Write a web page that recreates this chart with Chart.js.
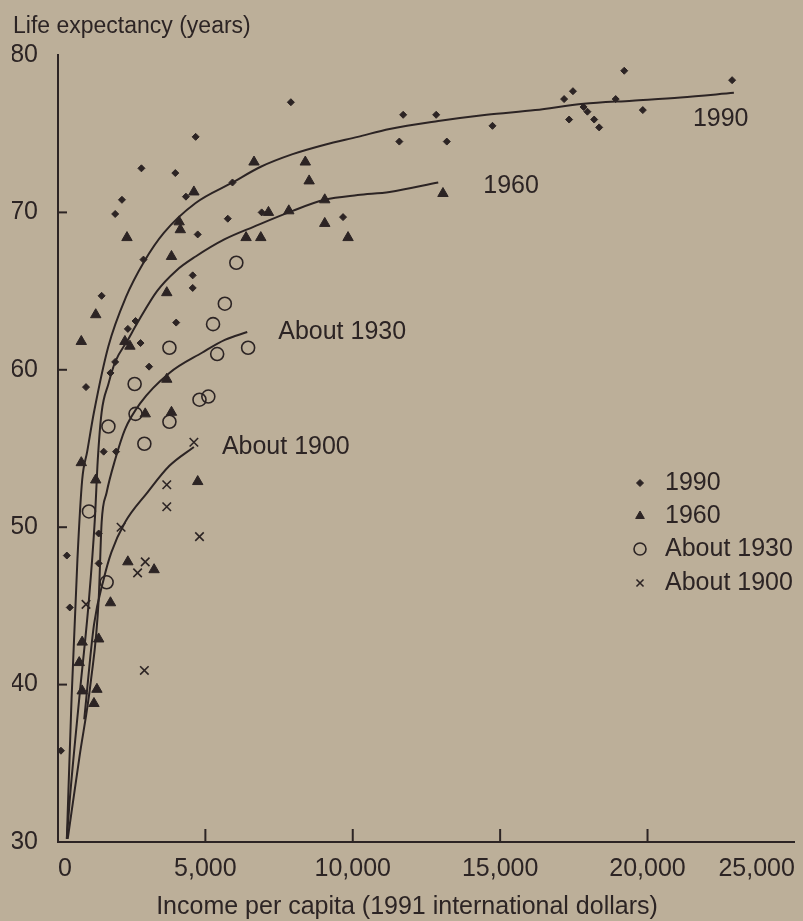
<!DOCTYPE html>
<html>
<head>
<meta charset="utf-8">
<script src="https://cdn.jsdelivr.net/npm/chart.js@4.4.0/dist/chart.umd.min.js"></script>
<style>
  html, body { margin: 0; padding: 0; background: #bcaf99; }
  #wrap { width: 803px; height: 921px; }
</style>
</head>
<body>
<div id="wrap"><canvas id="preston" width="803" height="921"></canvas></div>
<script>
// axis ticks
const incomeTicks = [0, 5000, 10000, 15000, 20000, 25000];
const lifeTicks = [30, 40, 50, 60, 70, 80];

// series names
const seriesNames = ['1990', '1960', 'About 1930', 'About 1900'];

// country points: [income per capita, life expectancy]
const pts1990 = [[7900,77.0],[4670,74.8],[2830,72.8],[3980,72.5],[4340,71.0],[2170,70.8],[1940,69.9],
  [5920,71.9],[5760,69.6],[4740,68.6],[2900,67.0],[4570,66.0],[4570,65.2],[6910,70.0],[9670,69.7],
  [19210,79.0],[22870,78.4],[17170,77.2],[17470,77.7],[17830,76.7],[17960,76.4],[18190,75.9],
  [17340,75.9],[18360,75.4],[18920,77.2],[19840,76.5],[11710,76.2],[12830,76.2],[14740,75.5],
  [11580,74.5],[13190,74.5],[1480,64.7],[4010,63.0],[2370,62.6],[2630,63.1],[2800,61.7],[1940,60.5],
  [1780,59.8],[3090,60.2],[950,58.9],[1970,54.8],[1550,54.8],[1380,49.6],[1380,47.7],[300,48.2],
  [400,44.9],[100,35.8]];
const pts1960 = [[13060,71.2],[8390,73.2],[8520,72.0],[4610,71.3],[4110,69.4],[4150,68.9],[2340,68.4],
  [3850,67.2],[6380,68.4],[6880,68.4],[7140,70.0],[7830,70.1],[9050,70.8],[9050,69.3],[9840,68.4],
  [6650,73.2],[3690,64.9],[1280,63.5],[790,61.8],[2270,61.8],[2440,61.5],[3690,59.4],[2960,57.2],
  [3850,57.3],[4740,52.9],[2370,47.8],[3260,47.3],[790,54.1],[1280,53.0],[1780,45.2],[820,42.7],
  [1380,42.9],[720,41.4],[820,39.6],[1320,39.7],[1220,38.8]];
const pts1930 = [[6050,66.8],[5660,64.2],[5260,62.9],[3780,61.4],[6450,61.4],[5400,61.0],[2600,59.1],
  [4800,58.1],[5100,58.3],[2630,57.2],[3780,56.7],[2930,55.3],[1710,56.4],[1650,46.5],[1050,51.0]];
const pts1900 = [[4610,55.4],[3690,52.7],[3690,51.3],[4800,49.4],[2140,50.0],[2960,47.8],[2700,47.1],
  [950,45.1],[2930,40.9]];

// fitted curves
const fit1990 = [[300,30.2],[460,39.1],[660,48.0],[820,53.0],[990,54.8],[1220,57.3],[1710,61.5],
  [2300,64.6],[2930,66.9],[3590,68.7],[4670,70.6],[5920,71.9],[6880,72.9],[7960,73.7],[9050,74.3],
  [10170,74.8],[11250,75.3],[12900,75.8],[14540,76.2],[16190,76.5],[17830,76.9],[19480,77.1],
  [21120,77.3],[22930,77.6]];
const fit1960 = [[300,30.2],[400,32.7],[720,39.1],[1050,45.4],[1250,50.5],[1350,54.3],[1480,57.3],
  [1710,59.1],[1940,60.5],[2370,61.9],[2700,63.0],[3360,65.0],[4010,66.3],[4670,67.2],[5660,68.3],
  [6650,69.1],[7960,70.1],[9050,70.8],[10170,71.1],[11250,71.3],[12900,71.9]];
const fit1930 = [[330,30.2],[720,35.3],[1120,40.3],[1380,45.4],[1480,50.3],[1650,52.2],[1940,54.3],
  [2270,56.2],[2800,57.9],[3780,59.8],[4900,61.1],[5660,61.9],[6420,62.4]];
const fit1900 = [[890,37.8],[1220,43.8],[1550,46.7],[1810,48.4],[2270,50.3],[3030,52.2],[3780,53.9],
  [4610,55.1]];

const ink = '#2c2424';
const bg = '#bcaf99';
const fontFamily = '"Liberation Sans", Arial, sans-serif';
const fontSize = 25;

const toXY = arr => arr.map(p => ({ x: p[0], y: p[1] }));

// marker styles per series
const markers = [
  { pointStyle: 'rectRot', radius: 3.5, filled: true },
  { pointStyle: 'triangle', radius: 6, filled: true },
  { pointStyle: 'circle', radius: 6.5, filled: false },
  { pointStyle: 'crossRot', radius: 6, filled: false }
];
// label offsets from the end of each curve (px)
const labelOffsets = [[-41, 26], [45, 4], [31, 0], [28, 0]];

const pointSets = [pts1990, pts1960, pts1930, pts1900];
const curveSets = [fit1990, fit1960, fit1930, fit1900];

const datasets = [];
curveSets.forEach((c, i) => {
  datasets.push({
    label: seriesNames[i] + ' curve',
    data: toXY(c),
    showLine: true,
    borderColor: ink,
    borderWidth: 2,
    pointRadius: 0,
    cubicInterpolationMode: 'monotone',
    fill: false
  });
});
pointSets.forEach((p, i) => {
  const m = markers[i];
  datasets.push({
    label: seriesNames[i],
    data: toXY(p),
    pointStyle: m.pointStyle,
    pointRadius: m.radius,
    pointBackgroundColor: m.filled ? ink : 'rgba(0,0,0,0)',
    pointBorderColor: ink,
    pointBorderWidth: m.filled ? 1 : 1.6,
    showLine: false
  });
});

function line(ctx, x1, y1, x2, y2) {
  ctx.beginPath(); ctx.moveTo(x1, y1); ctx.lineTo(x2, y2); ctx.stroke();
}

const decor = {
  id: 'decor',
  beforeDraw(chart) {
    const ctx = chart.ctx;
    ctx.save();
    ctx.fillStyle = bg;
    ctx.fillRect(0, 0, chart.width, chart.height);
    ctx.restore();
  },
  afterDraw(chart) {
    const { ctx, chartArea } = chart;
    const x = chart.scales.x, y = chart.scales.y;
    ctx.save();
    ctx.strokeStyle = ink;
    ctx.lineWidth = 2;
    // inward tick marks
    lifeTicks.slice(1, -1).forEach(v => {
      const py = y.getPixelForValue(v);
      line(ctx, chartArea.left, py, chartArea.left + 9, py);
    });
    incomeTicks.slice(1, -1).forEach(v => {
      const px = x.getPixelForValue(v);
      line(ctx, px, chartArea.bottom, px, chartArea.bottom - 13);
    });

    ctx.fillStyle = ink;
    ctx.textBaseline = 'middle';
    ctx.textAlign = 'left';
    ctx.font = '23px ' + fontFamily;
    ctx.fillText('Life expectancy (years)', 13, 27);

    // x axis title
    ctx.font = fontSize + 'px ' + fontFamily;
    ctx.textAlign = 'center';
    ctx.fillText('Income per capita (1991 international dollars)', 407, 907);
    ctx.textAlign = 'left';

    // curve labels
    curveSets.forEach((c, i) => {
      const last = c[c.length - 1];
      const px = x.getPixelForValue(last[0]) + labelOffsets[i][0];
      const py = y.getPixelForValue(last[1]) + labelOffsets[i][1];
      ctx.fillText(seriesNames[i], px, py);
    });

    // legend
    const lx = 640, tx = 665, rows = [483, 516, 549, 583];
    const legendRadius = [3.5, 5, 6, 5];
    seriesNames.forEach((name, i) => {
      const m = markers[i];
      ctx.strokeStyle = ink;
      ctx.fillStyle = m.filled ? ink : 'rgba(0,0,0,0)';
      ctx.lineWidth = m.filled ? 1 : 1.6;
      Chart.helpers.drawPoint(ctx, {
        pointStyle: m.pointStyle, radius: legendRadius[i], rotation: 0, borderWidth: ctx.lineWidth
      }, lx, rows[i]);
      ctx.fillStyle = ink;
      ctx.fillText(name, tx, rows[i]);
    });
    ctx.restore();
  }
};

new Chart(document.getElementById('preston'), {
  type: 'scatter',
  data: { datasets },
  options: {
    responsive: false,
    animation: false,
    layout: { padding: { top: 55, left: 12, right: 3, bottom: 25 } },
    plugins: {
      legend: { display: false },
      tooltip: { enabled: false }
    },
    scales: {
      x: {
        type: 'linear',
        min: 0,
        max: 25000,
        afterBuildTicks: axis => { axis.ticks = incomeTicks.map(v => ({ value: v })); },
        afterFit: s => { s.paddingLeft = 0; s.paddingRight = 0; },
        ticks: {
          align: 'inner',
          color: ink,
          padding: 12,
          font: { family: fontFamily, size: fontSize },
          callback: v => v.toLocaleString('en-US')
        },
        grid: { drawOnChartArea: false, drawTicks: false },
        border: { display: true, color: ink, width: 2 }
      },
      y: {
        type: 'linear',
        min: 30,
        max: 80,
        afterBuildTicks: axis => { axis.ticks = lifeTicks.map(v => ({ value: v })); },
        afterFit: s => { s.width = 46; },
        ticks: {
          color: ink,
          padding: 20,
          font: { family: fontFamily, size: fontSize }
        },
        grid: { drawOnChartArea: false, drawTicks: false },
        border: { display: true, color: ink, width: 2 }
      }
    }
  },
  plugins: [decor]
});
</script>
</body>
</html>
